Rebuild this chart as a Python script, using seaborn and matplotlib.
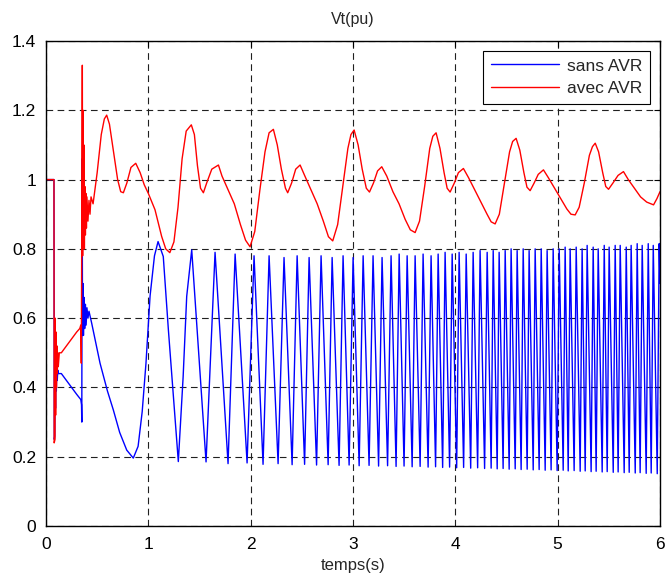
import numpy as np
import pandas as pd
import matplotlib
matplotlib.use("Agg")
import matplotlib.pyplot as plt
import seaborn as sns

# ---------------- data ----------------
# "avec AVR" (red) trace
red_t = [0.0, 0.078, 0.080, 0.088, 0.090, 0.094, 0.098, 0.102, 0.106, 0.110, 0.115, 0.12, 0.13,
         0.15, 0.20, 0.25, 0.30, 0.33, 0.34, 0.345, 0.350, 0.355, 0.358, 0.362, 0.366, 0.370,
         0.375, 0.38, 0.385, 0.39, 0.395, 0.40, 0.41, 0.42, 0.43, 0.44, 0.46, 0.50, 0.54, 0.57,
         0.593, 0.62, 0.66, 0.70, 0.73, 0.756, 0.79, 0.83, 0.877, 0.92, 0.96, 1.0, 1.065, 1.13,
         1.17, 1.21, 1.25, 1.29, 1.33, 1.37, 1.42, 1.45, 1.48, 1.51, 1.538, 1.57, 1.62, 1.685,
         1.72, 1.78, 1.84, 1.90, 1.95, 1.994, 2.04, 2.09, 2.14, 2.18, 2.222, 2.26, 2.30, 2.34,
         2.362, 2.40, 2.44, 2.483, 2.53, 2.59, 2.65, 2.71, 2.76, 2.802, 2.85, 2.90, 2.95, 2.98,
         3.011, 3.05, 3.09, 3.13, 3.161, 3.20, 3.24, 3.281, 3.33, 3.39, 3.45, 3.51, 3.56, 3.607,
         3.65, 3.70, 3.75, 3.78, 3.812, 3.85, 3.89, 3.92, 3.949, 3.99, 4.03, 4.079, 4.13, 4.19,
         4.25, 4.31, 4.35, 4.389, 4.43, 4.48, 4.53, 4.56, 4.594, 4.63, 4.67, 4.70, 4.731, 4.77,
         4.81, 4.861, 4.91, 4.97, 5.03, 5.09, 5.13, 5.171, 5.21, 5.26, 5.31, 5.34, 5.367, 5.40,
         5.44, 5.47, 5.497, 5.54, 5.59, 5.643, 5.69, 5.75, 5.81, 5.87, 5.937, 5.97, 6.0]
red_v = [1.0, 1.0, 0.24, 0.25, 0.60, 0.32, 0.56, 0.40, 0.52, 0.44, 0.50, 0.46, 0.50,
         0.50, 0.52, 0.54, 0.56, 0.57, 0.58, 0.47, 0.90, 1.33, 0.78, 1.20, 0.85, 1.10,
         0.80, 0.98, 0.84, 0.96, 0.86, 0.95, 0.88, 0.94, 0.90, 0.95, 0.93, 1.02, 1.13, 1.175,
         1.186, 1.16, 1.08, 1.00, 0.965, 0.962, 0.99, 1.035, 1.047, 1.02, 0.985, 0.96, 0.913, 0.836,
         0.80, 0.789, 0.82, 0.92, 1.06, 1.14, 1.158, 1.13, 1.04, 0.975, 0.962, 0.99, 1.03, 1.042,
         1.01, 0.97, 0.93, 0.87, 0.825, 0.806, 0.85, 0.97, 1.08, 1.135, 1.145, 1.10, 1.03, 0.975,
         0.962, 0.99, 1.03, 1.042, 1.01, 0.97, 0.93, 0.88, 0.835, 0.823, 0.87, 0.98, 1.09, 1.13,
         1.143, 1.10, 1.03, 0.975, 0.964, 0.99, 1.025, 1.037, 1.01, 0.965, 0.93, 0.885, 0.855, 0.847,
         0.88, 0.98, 1.09, 1.125, 1.135, 1.09, 1.02, 0.975, 0.964, 0.99, 1.02, 1.032, 1.005, 0.97,
         0.935, 0.90, 0.878, 0.872, 0.90, 0.99, 1.08, 1.11, 1.119, 1.085, 1.02, 0.978, 0.968, 0.99,
         1.015, 1.028, 1.005, 0.975, 0.945, 0.915, 0.90, 0.898, 0.92, 0.99, 1.07, 1.095, 1.105, 1.08,
         1.02, 0.98, 0.972, 0.99, 1.012, 1.023, 1.00, 0.975, 0.95, 0.935, 0.927, 0.945, 0.965]

# "sans AVR" (blue) trace: transient part
blue_start_t = [0.0, 0.078, 0.081, 0.086, 0.089, 0.093, 0.097, 0.101, 0.105, 0.110, 0.115, 0.12,
                0.15, 0.20, 0.25, 0.30, 0.34, 0.347, 0.350, 0.353, 0.357, 0.361, 0.366, 0.372,
                0.378, 0.385, 0.392, 0.40, 0.41, 0.42, 0.446, 0.528, 0.60, 0.658, 0.72, 0.789,
                0.853, 0.90, 0.94, 0.977, 1.017, 1.06, 1.095, 1.146, 1.196, 1.245, 1.293, 1.34,
                1.375]
blue_start_v = [1.0, 1.0, 0.25, 0.26, 0.47, 0.34, 0.46, 0.39, 0.45, 0.42, 0.45, 0.44,
                0.44, 0.42, 0.40, 0.38, 0.365, 0.35, 0.30, 1.06, 0.55, 0.70, 0.55, 0.66,
                0.57, 0.64, 0.58, 0.63, 0.60, 0.62, 0.586, 0.47, 0.39, 0.335, 0.27, 0.219,
                0.196, 0.23, 0.33, 0.47, 0.664, 0.78, 0.821, 0.778, 0.566, 0.374, 0.186, 0.43,
                0.663]
# blue oscillation peaks
blue_peak_t = [1.424, 1.652, 1.848, 2.033, 2.180, 2.326, 2.454, 2.571, 2.688, 2.796, 2.903, 3.001,
               3.099, 3.196, 3.284, 3.372, 3.451, 3.529, 3.607, 3.685, 3.763, 3.832, 3.900, 3.969,
               4.037, 4.106, 4.174, 4.242, 4.311, 4.370, 4.428, 4.487, 4.545, 4.604, 4.663, 4.721,
               4.780, 4.839, 4.897, 4.956, 5.015, 5.073, 5.122, 5.181, 5.239, 5.288, 5.347, 5.396,
               5.455, 5.503, 5.562, 5.611, 5.670, 5.718, 5.777, 5.826, 5.885, 5.934, 5.992]
blue_peak_v = [0.797, 0.79, 0.785, 0.78, 0.78, 0.775, 0.78, 0.775, 0.78, 0.775, 0.78, 0.775,
               0.78, 0.78, 0.775, 0.78, 0.785, 0.78, 0.78, 0.785, 0.78, 0.785, 0.79, 0.785,
               0.79, 0.785, 0.79, 0.795, 0.79, 0.795, 0.79, 0.795, 0.80, 0.795, 0.80, 0.795,
               0.80, 0.80, 0.795, 0.80, 0.80, 0.805, 0.80, 0.805, 0.80, 0.81, 0.805, 0.80,
               0.81, 0.805, 0.81, 0.81, 0.805, 0.81, 0.815, 0.81, 0.815, 0.81, 0.815]
# blue oscillation troughs
blue_trough_t = [1.564, 1.779, 1.965, 2.121, 2.268, 2.405, 2.527, 2.644, 2.757, 2.864, 2.962, 3.060,
                 3.157, 3.250, 3.338, 3.421, 3.499, 3.578, 3.656, 3.734, 3.807, 3.876, 3.944, 4.013,
                 4.081, 4.150, 4.218, 4.286, 4.350, 4.409, 4.467, 4.526, 4.585, 4.643, 4.702, 4.761,
                 4.819, 4.878, 4.936, 4.995, 5.054, 5.103, 5.161, 5.220, 5.269, 5.327, 5.376, 5.435,
                 5.484, 5.543, 5.591, 5.650, 5.699, 5.758, 5.806, 5.865, 5.914, 5.973]
blue_trough_v = [0.185, 0.18, 0.182, 0.178, 0.18, 0.177, 0.178, 0.176, 0.177, 0.175, 0.176, 0.174,
                 0.175, 0.173, 0.174, 0.172, 0.173, 0.171, 0.172, 0.17, 0.171, 0.169, 0.17, 0.168,
                 0.169, 0.167, 0.168, 0.166, 0.167, 0.165, 0.166, 0.164, 0.165, 0.163, 0.164, 0.162,
                 0.163, 0.161, 0.162, 0.16, 0.161, 0.159, 0.16, 0.158, 0.159, 0.157, 0.158, 0.156,
                 0.157, 0.155, 0.156, 0.154, 0.155, 0.153, 0.154, 0.152, 0.153, 0.151]
blue_end_t = [6.0]
blue_end_v = [0.70]

x_ticks = [0, 1, 2, 3, 4, 5, 6]
y_ticks = [0, 0.2, 0.4, 0.6, 0.8, 1.0, 1.2, 1.4]
y_tick_labels = ["0", "0.2", "0.4", "0.6", "0.8", "1", "1.2", "1.4"]
series_names = ["sans AVR", "avec AVR"]
title = "Vt(pu)"
x_label = "temps(s)"

# ---------------- build tables ----------------
blue_df = pd.DataFrame({
    "t": blue_start_t + blue_peak_t + blue_trough_t + blue_end_t,
    "v": blue_start_v + blue_peak_v + blue_trough_v + blue_end_v,
}).sort_values("t", kind="stable").reset_index(drop=True)
red_df = pd.DataFrame({"t": red_t, "v": red_v})

# ---------------- draw ----------------
sns.set_style("white")
plt.rcParams["font.family"] = ["Liberation Sans", "DejaVu Sans"]

fig = plt.figure(figsize=(6.67, 5.80), dpi=100)
ax = fig.add_axes([46 / 667, 1 - 526 / 580, (660 - 46) / 667, (526 - 41) / 580])

sns.lineplot(data=blue_df, x="t", y="v", ax=ax, color="#0000ff", linewidth=1.0,
             estimator=None, sort=False, label=series_names[0])
sns.lineplot(data=red_df, x="t", y="v", ax=ax, color="#ff0000", linewidth=1.0,
             estimator=None, sort=False, label=series_names[1])

ax.set_xlim(0, 6)
ax.set_ylim(0, 1.4)
ax.set_xticks(x_ticks)
ax.set_xticklabels([str(v) for v in x_ticks])
ax.set_yticks(y_ticks)
ax.set_yticklabels(y_tick_labels)
ax.tick_params(axis="both", which="both", direction="in", length=4, width=0.8,
               top=True, right=True, labelsize=12.5, colors="black")
ax.tick_params(axis="y", pad=7)
ax.tick_params(axis="x", pad=8)

ax.grid(True, color="#202020", linestyle=(0, (6, 4)), linewidth=0.8)
ax.set_axisbelow(True)
for s in ax.spines.values():
    s.set_color("black")
    s.set_linewidth(1.0)

ax.set_title(title, fontsize=11.5, pad=12)
ax.set_xlabel(x_label, fontsize=12, labelpad=4)
ax.set_ylabel("")

leg = ax.legend(loc="upper right", fontsize=12.5, frameon=True, fancybox=False,
                edgecolor="black", framealpha=1, handlelength=3.9, borderaxespad=0.55,
                borderpad=0.45, labelspacing=0.45, handletextpad=0.5)
leg.get_frame().set_linewidth(0.8)

fig.savefig("out.png", dpi=100)
